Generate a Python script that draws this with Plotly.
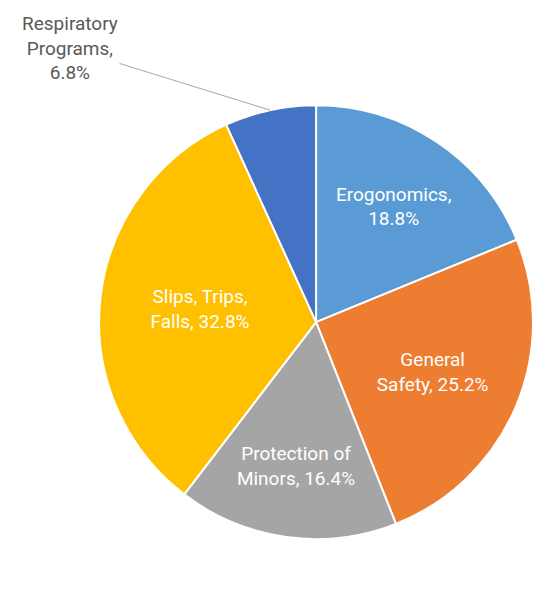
import math
import plotly.graph_objects as go

categories = ["Erogonomics", "General<br>Safety", "Protection of<br>Minors", "Slips, Trips,<br>Falls", "Respiratory<br>Programs"]
values = [18.8, 25.2, 16.4, 32.8, 6.8]
separators = [",<br>", ", ", ", ", ", ", ",<br>"]
colors = ["#5B9BD5", "#ED7D31", "#A5A5A5", "#FFC000", "#4472C4"]

FONT = "Roboto, Liberation Sans, Arial"
labels_text = [f"{c}{s}{v}%" for c, s, v in zip(categories, separators, values)]
inside_text = labels_text[:-1] + [""]

W, H = 533, 601
dom_x = [0.186, 1.0]
dom_y = [0.0, 0.928]

fig = go.Figure(go.Pie(
    labels=categories,
    values=values,
    text=inside_text,
    sort=False,
    direction="clockwise",
    rotation=0,
    marker=dict(colors=colors, line=dict(color="white", width=2)),
    texttemplate="%{text}",
    textposition="inside",
    insidetextorientation="horizontal",
    textfont=dict(family=FONT, size=19, color="white"),
    hoverinfo="label+percent",
    showlegend=False,
    domain=dict(x=dom_x, y=dom_y),
))

# leader-line label for the small slice, anchored on its rim at mid-angle
r_px = min((dom_x[1] - dom_x[0]) * W, (dom_y[1] - dom_y[0]) * H) / 2
cx = (dom_x[0] + dom_x[1]) / 2 * W
cy = (dom_y[0] + dom_y[1]) / 2 * H
total = sum(values)
mid = (total - values[-1] / 2) / total * 2 * math.pi
px = cx + r_px * math.sin(mid)
py = cy + r_px * math.cos(mid)

fig.add_annotation(
    x=px / W, y=py / H, xref="paper", yref="paper",
    text=labels_text[-1],
    showarrow=True, arrowhead=0, arrowwidth=1, arrowcolor="#A6A6A6",
    ax=-200, ay=-62,
    font=dict(family=FONT, size=19, color="#595959"),
    align="center",
)

fig.update_layout(
    width=W, height=H,
    margin=dict(l=0, r=0, t=0, b=0),
    paper_bgcolor="white",
    plot_bgcolor="white",
    uniformtext=dict(minsize=19, mode="show"),
)

fig.write_html("out.html", config={"displayModeBar": False},
               post_script="document.body.style.margin='0';")
